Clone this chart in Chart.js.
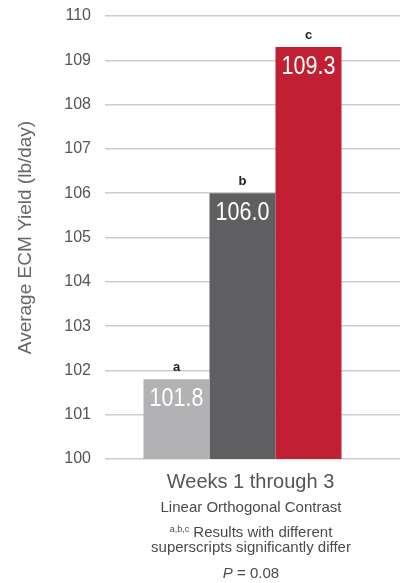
<!DOCTYPE html>
<html>
<head>
<meta charset="utf-8">
<script src="https://cdn.jsdelivr.net/npm/chart.js@4.4.1/dist/chart.umd.min.js"></script>
<style>
  html, body { margin: 0; padding: 0; background: #ffffff; }
  #wrap { position: relative; width: 401px; height: 583px; overflow: hidden; }
  #c { position: absolute; left: 0; top: 0; }
  .fn { position: absolute; left: 101px; width: 300px; text-align: center;
        font-family: "Liberation Sans", Arial, sans-serif; font-size: 15px;
        line-height: 20px; color: #4a4a4a; white-space: nowrap; }
  .sup { font-size: 9px; vertical-align: 5px; }
</style>
</head>
<body>
<div id="wrap">
  <canvas id="c" width="401" height="583"></canvas>
  <div class="fn" style="top:497px">Linear Orthogonal Contrast</div>
  <div class="fn" style="top:519px"><span class="sup">a,b,c</span> Results with different</div>
  <div class="fn" style="top:537px">superscripts significantly differ</div>
  <div class="fn" style="top:563px"><i>P</i> = 0.08</div>
</div>
<script>
// ---- data ----
const categories = ['Weeks 1 through 3'];
const seriesNames = ['a', 'b', 'c'];
const seriesValues = [101.8, 106.0, 109.3];
const sigLetters = ['a', 'b', 'c'];
const seriesColors = ['#b2b2b5', '#5f5f62', '#c01f34'];
const yMin = 100;
const yMax = 110;
const yStep = 1;
const yTitle = 'Average ECM Yield (lb/day)';

const FONT = '"Liberation Sans", Arial, sans-serif';

const barLabels = {
  id: 'barLabels',
  afterDatasetsDraw(chart) {
    const ctx = chart.ctx;
    chart.data.datasets.forEach((ds, i) => {
      const meta = chart.getDatasetMeta(i);
      meta.data.forEach((bar, j) => {
        const v = ds.data[j];
        ctx.save();
        ctx.translate(bar.x, bar.y + 27);
        ctx.scale(0.86, 1);
        ctx.font = '25px ' + FONT;
        ctx.fillStyle = '#ffffff';
        ctx.textAlign = 'center';
        ctx.textBaseline = 'alphabetic';
        ctx.fillText(v.toFixed(1), 0, 0);
        ctx.restore();
        ctx.save();
        ctx.font = 'bold 13px ' + FONT;
        ctx.fillStyle = '#222222';
        ctx.textAlign = 'center';
        ctx.textBaseline = 'alphabetic';
        ctx.fillText(sigLetters[i], bar.x, bar.y - 8);
        ctx.restore();
      });
    });
  }
};

new Chart(document.getElementById('c'), {
  type: 'bar',
  data: {
    labels: categories,
    datasets: seriesValues.map((v, i) => ({
      label: seriesNames[i],
      data: [v],
      backgroundColor: seriesColors[i],
      borderWidth: 0,
      barPercentage: 1.0,
      categoryPercentage: 0.72
    }))
  },
  options: {
    responsive: false,
    animation: false,
    events: [],
    layout: { padding: { top: 16, bottom: 78, left: 0, right: 1 } },
    plugins: { legend: { display: false }, tooltip: { enabled: false } },
    scales: {
      x: {
        grid: { display: false, drawTicks: false },
        border: { display: false },
        ticks: { font: { family: FONT, size: 20 }, color: '#555555', padding: 11, labelOffset: 8 }
      },
      y: {
        position: 'left',
        min: yMin, max: yMax,
        grid: { display: false, drawTicks: false },
        border: { display: false },
        ticks: { stepSize: yStep, font: { family: FONT, size: 16 }, color: '#555555', padding: 14 },
        title: { display: true, text: yTitle, font: { family: FONT, size: 19 }, color: '#666666', padding: { top: 14, bottom: 0 } },
        afterFit(scale) { scale.width = 105; scale.paddingTop = 0; scale.paddingBottom = 0; }
      },
      y2: {
        position: 'right',
        min: yMin, max: yMax,
        grid: { display: true, drawTicks: true, tickLength: 20, color: '#cdcdcd', lineWidth: 1.5 },
        border: { display: false },
        ticks: { stepSize: yStep, display: false },
        afterFit(scale) { scale.paddingTop = 0; scale.paddingBottom = 0; }
      }
    }
  },
  plugins: [barLabels]
});
</script>
</body>
</html>
